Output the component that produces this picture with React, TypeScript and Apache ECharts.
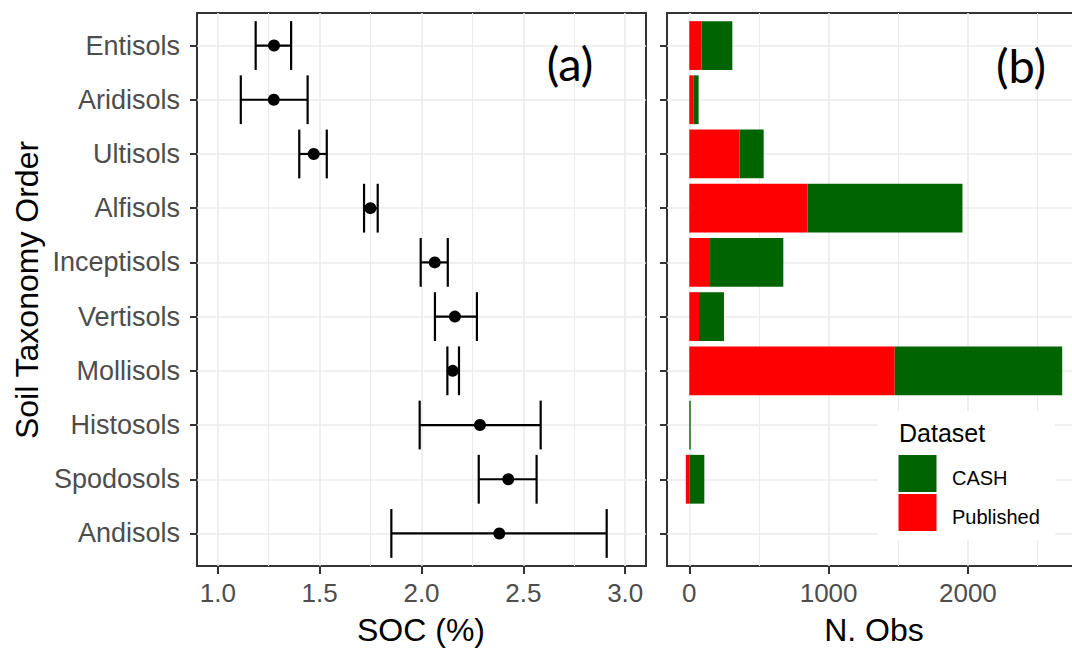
import React, { useEffect, useRef } from "react";
import * as echarts from "echarts";

const orders = ["Entisols", "Aridisols", "Ultisols", "Alfisols", "Inceptisols", "Vertisols", "Mollisols", "Histosols", "Spodosols", "Andisols"];
const socMean = [1.276, 1.275, 1.471, 1.749, 2.065, 2.164, 2.153, 2.287, 2.426, 2.382];
const socLow = [1.186, 1.113, 1.4, 1.718, 1.996, 2.066, 2.127, 1.991, 2.281, 1.852];
const socHigh = [1.36, 1.441, 1.535, 1.785, 2.129, 2.272, 2.184, 2.585, 2.565, 2.909];
const published = [89, 29, 361, 848, 149, 70, 1475, 0, -25, 0];
const cash = [220, 38, 173, 1113, 526, 179, 1202, 10, 108, 0];
const socTicks = [1.0, 1.5, 2.0, 2.5, 3.0];
const socMinor = [1.25, 1.75, 2.25, 2.75];
const obsTicks = [0, 1000, 2000];
const obsMinor = [500, 1500, 2500];
const catIdx = orders.map((_, i) => i);

const FONT = "Liberation Sans, Arial, sans-serif";
const GRID_COL = "#ebebeb";
const DARK = "#333333";

export default function App() {
  const ref = useRef<HTMLDivElement>(null);
  useEffect(() => {
    if (!ref.current) return;
    const chart = echarts.init(ref.current, null, { renderer: "svg" });

    const errData = catIdx.map((i) => [i, socLow[i], socHigh[i]]);
    const ptData = catIdx.map((i) => [socMean[i], i]);
    const pubData = catIdx.map((i) => [i, 0, published[i]]);
    const cashData = catIdx.map((i) => {
      const base = Math.max(published[i], 0);
      return [i, base, base + cash[i]];
    });

    const barRender = (color: string) => (params: any, api: any) => {
      const y = api.value(0);
      const s = api.value(1);
      const e = api.value(2);
      if (s === e) return null;
      const p0 = api.coord([s, y - 0.45]);
      const p1 = api.coord([e, y + 0.45]);
      return {
        type: "rect",
        shape: {
          x: Math.min(p0[0], p1[0]),
          y: Math.min(p0[1], p1[1]),
          width: Math.abs(p1[0] - p0[0]),
          height: Math.abs(p1[1] - p0[1]),
        },
        style: { fill: color },
      };
    };

    const yAxisBase = (gridIndex: number, showLabel: boolean) => ({
      type: "value",
      gridIndex,
      min: -0.6,
      max: 9.6,
      inverse: true,
      position: "left",
      axisLine: { show: false, onZero: false },
      axisTick: { show: true, customValues: catIdx, length: 7, lineStyle: { color: DARK, width: 2 } },
      axisLabel: {
        show: showLabel,
        customValues: catIdx,
        formatter: (v: number) => orders[Math.round(v)] ?? "",
        color: "#4d4d4d",
        fontSize: 27,
        fontFamily: FONT,
        margin: 17,
      },
      splitLine: { show: true, lineStyle: { color: GRID_COL, width: 1.6 } },
    });

    const xMajor = (gridIndex: number, min: number, max: number, ticks: number[], fmt: (v: number) => string) => ({
      type: "value",
      gridIndex,
      min,
      max,
      position: "bottom",
      axisLine: { show: false, onZero: false },
      axisTick: { show: true, customValues: ticks, length: 8, lineStyle: { color: DARK, width: 2 } },
      axisLabel: {
        customValues: ticks,
        formatter: fmt,
        color: "#4d4d4d",
        fontSize: 26,
        fontFamily: FONT,
        margin: 14,
      },
      splitLine: { show: true, lineStyle: { color: GRID_COL, width: 1.6 } },
    });

    const xMinor = (gridIndex: number, min: number, max: number, ticks: number[]) => ({
      type: "value",
      gridIndex,
      min,
      max,
      position: "bottom",
      axisLine: { show: false, onZero: false },
      axisTick: { show: false, customValues: ticks },
      axisLabel: { show: false },
      splitLine: { show: true, lineStyle: { color: GRID_COL, width: 1.1 } },
    });

    const option: any = {
      animation: false,
      backgroundColor: "#ffffff",
      textStyle: { fontFamily: FONT },
      grid: [
        { left: 197, top: 13, width: 449, height: 553, show: true, borderColor: DARK, borderWidth: 2, backgroundColor: "transparent" },
        { left: 667, top: 13, width: 414, height: 553, show: true, borderColor: DARK, borderWidth: 2, backgroundColor: "transparent" },
      ],
      xAxis: [
        xMajor(0, 0.898, 3.102, socTicks, (v: number) => v.toFixed(1)),
        xMinor(0, 0.898, 3.102, socMinor),
        xMajor(1, -160, 2812, obsTicks, (v: number) => String(v)),
        xMinor(1, -160, 2812, obsMinor),
      ],
      yAxis: [yAxisBase(0, true), yAxisBase(1, false)],
      series: [
        {
          type: "custom",
          name: "SOC CI",
          xAxisIndex: 0,
          yAxisIndex: 0,
          data: errData,
          encode: { x: [1, 2], y: 0 },
          renderItem: (params: any, api: any) => {
            const y = api.value(0);
            const lo = api.value(1);
            const hi = api.value(2);
            const a = api.coord([lo, y]);
            const b = api.coord([hi, y]);
            const a0 = api.coord([lo, y - 0.45]);
            const a1 = api.coord([lo, y + 0.45]);
            const b0 = api.coord([hi, y - 0.45]);
            const b1 = api.coord([hi, y + 0.45]);
            const st = { stroke: "#000", lineWidth: 2.2 };
            return {
              type: "group",
              children: [
                { type: "line", shape: { x1: a[0], y1: a[1], x2: b[0], y2: b[1] }, style: st },
                { type: "line", shape: { x1: a0[0], y1: a0[1], x2: a1[0], y2: a1[1] }, style: st },
                { type: "line", shape: { x1: b0[0], y1: b0[1], x2: b1[0], y2: b1[1] }, style: st },
              ],
            };
          },
        },
        {
          type: "scatter",
          name: "SOC mean",
          xAxisIndex: 0,
          yAxisIndex: 0,
          data: ptData,
          symbol: "circle",
          symbolSize: 12,
          itemStyle: { color: "#000", opacity: 1 },
        },
        {
          type: "custom",
          name: "Published",
          xAxisIndex: 2,
          yAxisIndex: 1,
          data: pubData,
          encode: { x: [1, 2], y: 0 },
          renderItem: barRender("#ff0000"),
        },
        {
          type: "custom",
          name: "CASH",
          xAxisIndex: 2,
          yAxisIndex: 1,
          data: cashData,
          encode: { x: [1, 2], y: 0 },
          renderItem: barRender("#006400"),
        },
      ],
      graphic: [
        {
          type: "text",
          x: 421,
          y: 630,
          style: { text: "SOC (%)", fontSize: 32, fontFamily: FONT, fill: "#000", align: "center", verticalAlign: "middle" },
        },
        {
          type: "text",
          x: 874,
          y: 630,
          style: { text: "N. Obs", fontSize: 32, fontFamily: FONT, fill: "#000", align: "center", verticalAlign: "middle" },
        },
        {
          type: "text",
          x: 27,
          y: 290,
          rotation: Math.PI / 2,
          style: { text: "Soil Taxonomy Order", fontSize: 32, fontFamily: FONT, fill: "#000", align: "center", verticalAlign: "middle" },
        },
        {
          type: "text",
          x: 570,
          y: 63,
          z: 10,
          style: { text: "(a)", fontSize: 47, fontFamily: "Lato, sans-serif", fill: "#000", align: "center", verticalAlign: "middle" },
        },
        {
          type: "text",
          x: 1021,
          y: 65,
          z: 10,
          style: { text: "(b)", fontSize: 47, fontFamily: "Lato, sans-serif", fill: "#000", align: "center", verticalAlign: "middle" },
        },
        {
          type: "rect",
          z: 10,
          shape: { x: 878, y: 411, width: 177, height: 129 },
          style: { fill: "#ffffff" },
        },
        {
          type: "text",
          z: 11,
          x: 899,
          y: 433,
          style: { text: "Dataset", fontSize: 25, fontFamily: FONT, fill: "#000", align: "left", verticalAlign: "middle" },
        },
        {
          type: "rect",
          z: 11,
          shape: { x: 898.5, y: 455, width: 38, height: 37 },
          style: { fill: "#006400" },
        },
        {
          type: "rect",
          z: 11,
          shape: { x: 898.5, y: 494, width: 38, height: 37 },
          style: { fill: "#ff0000" },
        },
        {
          type: "text",
          z: 11,
          x: 952,
          y: 478,
          style: { text: "CASH", fontSize: 20, fontFamily: FONT, fill: "#000", align: "left", verticalAlign: "middle" },
        },
        {
          type: "text",
          z: 11,
          x: 952,
          y: 517,
          style: { text: "Published", fontSize: 20, fontFamily: FONT, fill: "#000", align: "left", verticalAlign: "middle" },
        },
      ],
    };

    chart.setOption(option);
    return () => chart.dispose();
  }, []);

  return (
    <div style={{ position: "absolute", left: 0, top: 0, width: 1072, height: 648, overflow: "hidden" }}>
      <div ref={ref} style={{ width: 1100, height: 648 }} />
    </div>
  );
}
